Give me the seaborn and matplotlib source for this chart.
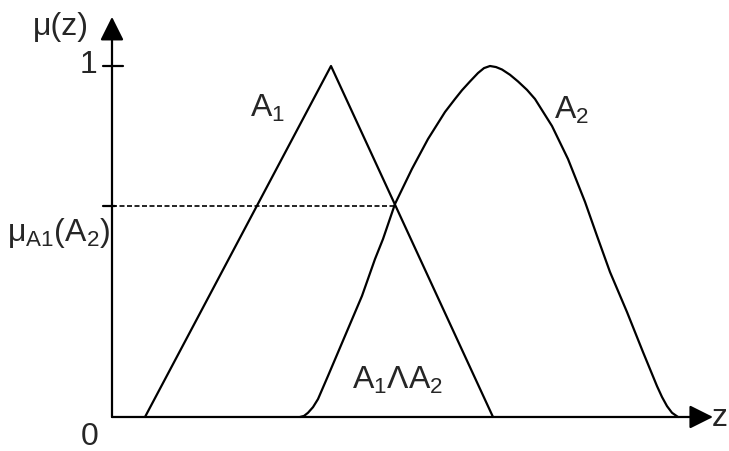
import matplotlib.pyplot as plt
import seaborn as sns

sns.set_style("white")
plt.rcParams["font.family"] = ["Liberation Sans", "DejaVu Sans"]
plt.rcParams["mathtext.fontset"] = "custom"
plt.rcParams["mathtext.rm"] = "Liberation Sans"
plt.rcParams["mathtext.it"] = "Liberation Sans:italic"

# triangular set A1
a1_z = [3.3, 21.9, 38.1]
a1_mu = [0.0, 1.0, 0.0]

# bell-shaped set A2
a2_z = [18.8, 19.2, 19.6, 20.1, 20.6, 21.6, 23.3, 25.0, 26.3, 27.1, 28.3, 30.0,
        31.6, 33.3, 34.3, 35.0, 35.8, 36.6, 37.2, 37.8, 38.4, 39.0, 39.8, 40.6,
        41.5, 42.3, 44.0, 45.6, 47.3, 48.5, 49.8, 51.5, 53.1, 54.5, 55.0, 55.5,
        56.0, 56.6]
a2_mu = [0.0, 0.003, 0.012, 0.028, 0.051, 0.117, 0.231, 0.345, 0.450, 0.507, 0.607, 0.707,
         0.792, 0.869, 0.906, 0.931, 0.956, 0.980, 0.994, 1.0, 0.997, 0.990, 0.975, 0.956,
         0.932, 0.906, 0.829, 0.735, 0.613, 0.516, 0.413, 0.299, 0.185, 0.088, 0.057, 0.031,
         0.012, 0.0]

# crossing point of A1 and A2
cross_z = 28.3
cross_mu = 0.601

fig = plt.figure(figsize=(7.29, 4.52), dpi=100)
ax = fig.add_axes([0, 0, 1, 1])
ax.set_xlim(-11.2, 61.7)
ax.set_ylim(-0.0969, 1.1909)
ax.axis("off")

sns.lineplot(x=a1_z, y=a1_mu, ax=ax, color="black", lw=1.6, estimator=None, sort=False)
sns.lineplot(x=a2_z, y=a2_mu, ax=ax, color="black", lw=1.6, estimator=None, sort=False)

# axes with arrows
arrow = dict(arrowstyle="-|>,head_length=0.72,head_width=0.36", mutation_scale=20,
             lw=1.6, color="black", shrinkA=0, shrinkB=0)
ax.annotate("", xy=(60.1, 0), xytext=(0, 0), arrowprops=arrow)
ax.annotate("", xy=(0, 1.14), xytext=(0, 0), arrowprops=arrow)

# ticks
ax.plot([-0.9, 1.1], [1.0, 1.0], color="black", lw=1.6)
ax.plot([-0.9, 0.3], [cross_mu, cross_mu], color="black", lw=1.6)
ax.plot([0, cross_z], [cross_mu, cross_mu], color="black", lw=1.2, dashes=(3, 1.5))

fs = 23
ax.text(-5.1, 1.114, "μ(z)", fontsize=fs, ha="center", va="center")
ax.text(-2.3, 1.006, "1", fontsize=fs, ha="center", va="center")
ax.text(-2.2, -0.054, "0", fontsize=fs, ha="center", va="center")
ax.text(61.6, 0.0, "z", fontsize=fs, ha="right", va="center")
ax.text(-0.2, 0.527, r"$\mathregular{μ_{A1}(A_2)}$", fontsize=fs, ha="right", va="center")
ax.text(15.6, 0.883, r"$\mathregular{A_1}$", fontsize=fs, ha="center", va="center")
ax.text(46.0, 0.877, r"$\mathregular{A_2}$", fontsize=fs, ha="center", va="center")
ax.text(28.55, 0.108, r"$\mathregular{A_1ΛA_2}$", fontsize=fs, ha="center", va="center")

fig.savefig("out.png", dpi=100)
plt.close(fig)
